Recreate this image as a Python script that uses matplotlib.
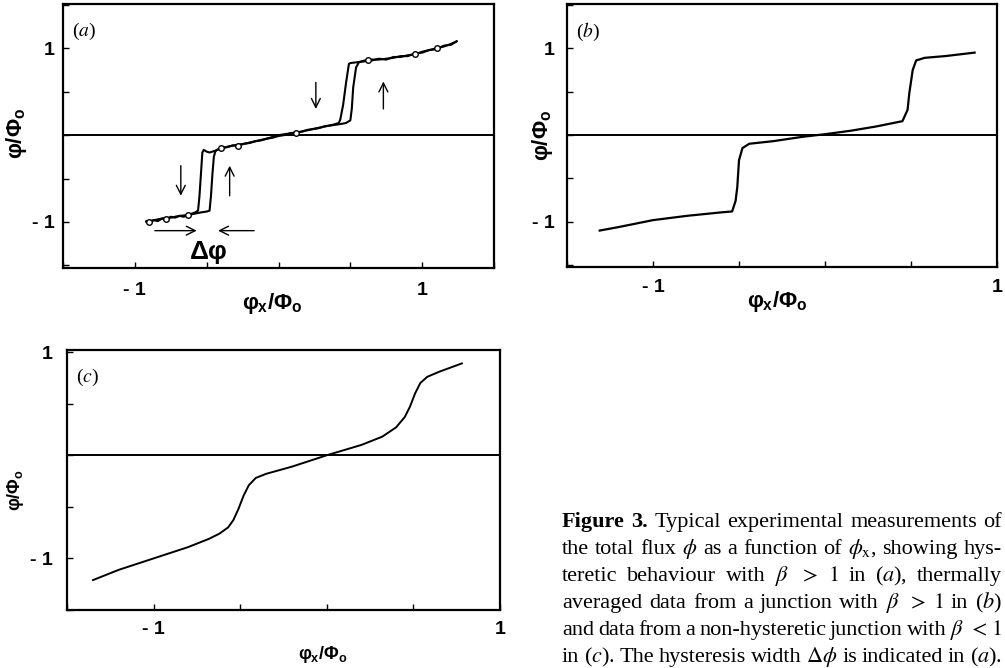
import numpy as np
import matplotlib
matplotlib.use('Agg')
import matplotlib.pyplot as plt
import matplotlib.transforms as mtransforms

plt.rcParams['mathtext.fontset'] = 'custom'
plt.rcParams['mathtext.rm'] = 'Liberation Sans:bold'
plt.rcParams['mathtext.it'] = 'Liberation Sans:bold'
plt.rcParams['mathtext.bf'] = 'Liberation Sans:bold'
plt.rcParams['mathtext.default'] = 'it'

# (a) hysteretic loop, sweep up and sweep down branches
a_up_x = [-0.92, -0.90, -0.87, -0.84, -0.81, -0.78, -0.75, -0.72, -0.69, -0.66, -0.63, -0.60, -0.57,
          -0.54, -0.50, -0.48, -0.47, -0.46, -0.45, -0.44, -0.43,
          -0.40, -0.36, -0.32, -0.28, -0.24, -0.20, -0.16, -0.12, -0.08, -0.04, 0.00, 0.04, 0.08,
          0.12, 0.16, 0.20, 0.24, 0.28, 0.32, 0.36, 0.40, 0.44, 0.47, 0.50, 0.51, 0.52, 0.54, 0.56,
          0.60, 0.65, 0.70, 0.75, 0.80, 0.85, 0.90, 0.95, 1.00, 1.05, 1.10, 1.15, 1.20, 1.24]
a_up_y = [-0.99, -1.01, -0.98, -0.99, -0.96, -0.97, -0.94, -0.95, -0.93, -0.94, -0.92, -0.91, -0.90,
          -0.89, -0.88, -0.87, -0.70, -0.45, -0.25, -0.19, -0.17,
          -0.15, -0.14, -0.12, -0.12, -0.10, -0.09, -0.07, -0.06, -0.04, -0.03, -0.01, 0.00, 0.02,
          0.03, 0.04, 0.06, 0.07, 0.08, 0.10, 0.11, 0.12, 0.13, 0.14, 0.17, 0.30, 0.55, 0.78, 0.84,
          0.86, 0.86, 0.88, 0.87, 0.90, 0.90, 0.92, 0.93, 0.96, 0.98, 1.00, 1.02, 1.05, 1.08]
a_dn_x = [1.24, 1.20, 1.15, 1.10, 1.05, 1.00, 0.95, 0.90, 0.85, 0.80, 0.75, 0.70, 0.65, 0.60, 0.55,
          0.50, 0.49, 0.47, 0.45, 0.43, 0.42, 0.38, 0.32, 0.24, 0.16, 0.08, 0.00, -0.08, -0.16,
          -0.24, -0.32, -0.40, -0.44, -0.48, -0.50, -0.52, -0.53, -0.54, -0.55, -0.56, -0.58,
          -0.63, -0.69, -0.75, -0.81, -0.87, -0.92]
a_dn_y = [1.08, 1.04, 1.03, 0.99, 0.98, 0.95, 0.94, 0.91, 0.91, 0.89, 0.88, 0.87, 0.87, 0.85, 0.84,
          0.83, 0.82, 0.60, 0.35, 0.18, 0.14, 0.12, 0.10, 0.07, 0.04, 0.02, 0.00, -0.04, -0.07,
          -0.10, -0.12, -0.15, -0.18, -0.20, -0.19, -0.17, -0.20, -0.45, -0.70, -0.87, -0.89,
          -0.92, -0.93, -0.95, -0.96, -0.98, -1.00]
# small loops in the noisy trace
a_loop_x = [-0.90, -0.78, -0.63, -0.40, -0.28, 0.12, 0.62, 0.95, 1.10]
a_loop_y = [-1.00, -0.97, -0.92, -0.15, -0.12, 0.03, 0.86, 0.93, 1.00]

# (b) thermally averaged data
b_x = [-1.31, -1.20, -1.00, -0.80, -0.60, -0.54, -0.52, -0.51, -0.50, -0.48, -0.44, -0.30, -0.13,
       0.00, 0.15, 0.30, 0.45, 0.48, 0.49, 0.51, 0.53, 0.58, 0.70, 0.87]
b_y = [-1.10, -1.06, -0.98, -0.93, -0.89, -0.88, -0.76, -0.60, -0.29, -0.15, -0.10, -0.07, -0.02,
       0.01, 0.05, 0.10, 0.16, 0.29, 0.48, 0.75, 0.86, 0.89, 0.91, 0.95]

# (c) non-hysteretic junction
c_x = [-1.35, -1.20, -1.00, -0.80, -0.68, -0.62, -0.57, -0.54, -0.51, -0.48, -0.45, -0.41, -0.35,
       -0.20, 0.00, 0.20, 0.32, 0.40, 0.45, 0.48, 0.51, 0.54, 0.58, 0.65, 0.78]
c_y = [-1.21, -1.11, -1.00, -0.89, -0.81, -0.76, -0.70, -0.63, -0.52, -0.39, -0.29, -0.22, -0.18,
       -0.11, 0.00, 0.10, 0.18, 0.27, 0.37, 0.47, 0.60, 0.70, 0.76, 0.81, 0.89]

tick_vals = [-1.5, -1.0, -0.5, 0.0, 0.5, 1.0, 1.5]
tick_text = ['', '- 1', '', '', '', '1', '']

caption_lines = [
    r'Figure 3. Typical experimental measurements of',
    r'the total flux $\phi$ as a function of $\phi_\mathrm{x}$, showing hys-',
    r'teretic behaviour with $\beta$ $>$ $1$ in ($a$), thermally',
    r'averaged data from a junction with $\beta$ $>$ $1$ in ($b$)',
    r'and data from a non-hysteretic junction with $\beta$ $<$ $1$',
    r'in ($c$). The hysteresis width $\Delta\phi$ is indicated in ($a$).',
]
bold_words = ['Figure', '3.']

W, H = 1005, 668
fig = plt.figure(figsize=(W / 100, H / 100), dpi=100)


def panel(rect, xlim, ylim, letter, size, xpad, ypad, xlab_pos, ylab_pos):
    l, t, r, b = rect
    ax = fig.add_axes([l / W, 1 - b / H, (r - l) / W, (b - t) / H])
    ax.axhline(0, color='black', lw=1.4)
    for s in ax.spines.values():
        s.set_linewidth(1.6)
    ax.set_xticks(tick_vals)
    ax.set_xticklabels(tick_text)
    ax.set_yticks(tick_vals)
    ax.set_yticklabels(tick_text)
    ax.set_xlim(*xlim)
    ax.set_ylim(*ylim)
    ax.tick_params(direction='in', length=4, width=1)
    ax.tick_params(axis='x', pad=xpad)
    ax.tick_params(axis='y', pad=ypad)
    for lab in ax.get_xticklabels() + ax.get_yticklabels():
        lab.set_family('Liberation Sans')
        lab.set_fontweight('bold')
        lab.set_fontsize(14)
    ax.set_xlabel(r'$\varphi_x/\Phi_o$', fontsize=size, va='center')
    ax.set_ylabel(r'$\varphi/\Phi_o$', fontsize=size, va='center')
    ax.xaxis.set_label_coords(*xlab_pos)
    ax.yaxis.set_label_coords(*ylab_pos)
    ax.text(0.02, 0.895, '(' + '$' + letter + '$' + ')', transform=ax.transAxes,
            family='Liberation Serif', math_fontfamily='stix', fontsize=14, va='center')
    return ax


ax_a = panel((63, 4, 494, 268), (-1.5, 1.5), (-1.53, 1.51), 'a', 16, 10, 6,
             (0.485, -0.133), (-0.107, 0.51))
ax_a.plot(a_up_x, a_up_y, color='black', lw=1.5)
ax_a.plot(a_dn_x, a_dn_y, color='black', lw=1.5)
ax_a.plot(a_loop_x, a_loop_y, 'o', ms=4, mfc='white', mec='black', mew=1.0)

arw = dict(arrowstyle='->', lw=1.0, color='black', mutation_scale=16)
ax_a.annotate('', xy=(-0.68, -0.73), xytext=(-0.68, -0.32), arrowprops=arw)
ax_a.annotate('', xy=(-0.34, -0.32), xytext=(-0.34, -0.73), arrowprops=arw)
ax_a.annotate('', xy=(0.26, 0.27), xytext=(0.26, 0.64), arrowprops=arw)
ax_a.annotate('', xy=(0.73, 0.65), xytext=(0.73, 0.27), arrowprops=arw)
ax_a.annotate('', xy=(-0.55, -1.10), xytext=(-0.88, -1.10), arrowprops=arw)
ax_a.annotate('', xy=(-0.44, -1.10), xytext=(-0.15, -1.10), arrowprops=arw)
ax_a.text(-0.49, -1.35, r'$\Delta\varphi$', fontsize=19, ha='center', va='center')

ax_b = panel((567, 4, 997, 267), (-1.5, 1.0), (-1.52, 1.51), 'b', 16, 9, 9,
             (0.49, -0.133), (-0.058, 0.5))
ax_b.plot(b_x, b_y, color='black', lw=1.6)

ax_c = panel((67, 350, 500, 610), (-1.5, 1.0), (-1.5, 1.02), 'c', 13, 8, 10,
             (0.59, -0.173), (-0.12, 0.46))
ax_c.plot(c_x, c_y, color='black', lw=1.4)

# justified caption
fig.canvas.draw()
renderer = fig.canvas.get_renderer()
px = mtransforms.IdentityTransform()
x0, x1 = 562, 1002
for i, line in enumerate(caption_lines):
    base = H - (527 + 27 * i)
    words = line.split(' ')
    items = []
    for w in words:
        bold = (i == 0 and w in bold_words)
        t = fig.text(0, base, w, transform=px, ha='left', va='baseline',
                     family='Liberation Serif', fontsize=16,
                     fontweight='bold' if bold else 'normal', math_fontfamily='stix')
        items.append(t)
    widths = [t.get_window_extent(renderer).width for t in items]
    gap = (x1 - x0 - sum(widths)) / (len(items) - 1)
    x = x0
    for t, w in zip(items, widths):
        t.set_x(x)
        x += w + gap

fig.savefig('out.png', dpi=100)
